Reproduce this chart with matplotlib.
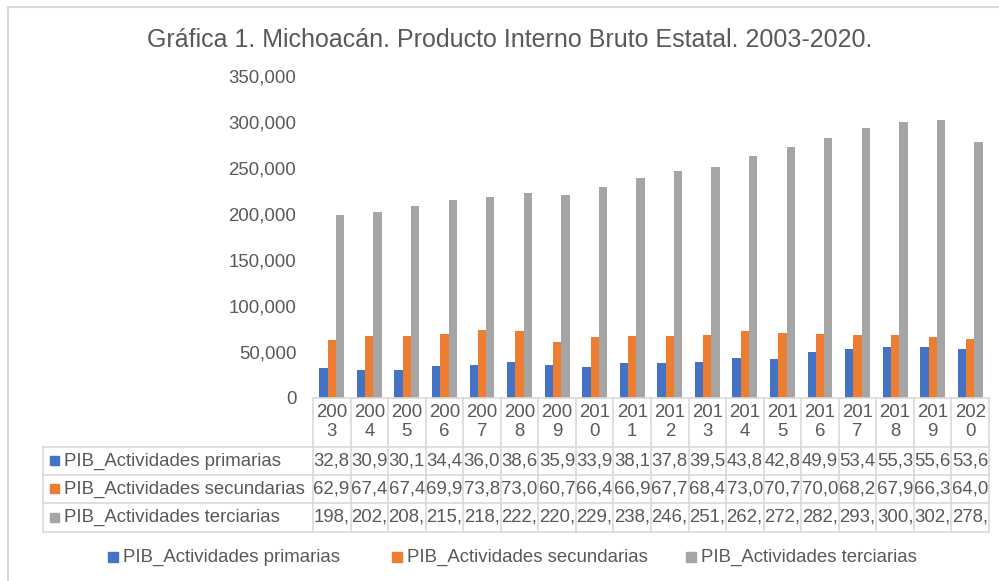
import numpy as np
import matplotlib.pyplot as plt
from matplotlib.patches import Rectangle
from matplotlib.lines import Line2D

plt.rcParams['font.family'] = ['Liberation Sans', 'DejaVu Sans']

years = [str(y) for y in range(2003, 2021)]
series_names = ['PIB_Actividades primarias', 'PIB_Actividades secundarias', 'PIB_Actividades terciarias']
primarias = [32850, 30950, 30150, 34450, 36050, 38650, 35950, 33950, 38150,
             37850, 39550, 43850, 42850, 49950, 53450, 55350, 55650, 53650]
secundarias = [62950, 67450, 67450, 69950, 73850, 73050, 60750, 66450, 66950,
               67750, 68450, 73050, 70750, 70050, 68250, 67950, 66350, 64050]
terciarias = [198500, 202700, 208200, 215400, 218300, 222600, 220500, 229300, 238600,
              246300, 251200, 262700, 272300, 282400, 293100, 300500, 302400, 278600]
colors = ['#4472C4', '#ED7D31', '#A5A5A5']
text_col = '#595959'
grid_col = '#D9D9D9'
fs = 13.4

W, H = 999, 581
fig = plt.figure(figsize=(W / 100, H / 100), dpi=100)


def fx(x):
    return x / W


def fy(y):
    # y measured from the top of the picture
    return 1 - y / H


# plot area in pixels
left, right, top, bottom = 313, 989, 76, 398
ax = fig.add_axes([fx(left), fy(bottom), fx(right - left), (bottom - top) / H])

data = [primarias, secundarias, terciarias]
x = np.arange(len(years))
bw = 0.22
for k in range(3):
    ax.bar(x + (k - 1) * bw, data[k], bw, color=colors[k])

ax.set_xlim(-0.5, len(years) - 0.5)
ax.set_ylim(0, 350000)
ax.set_yticks(range(0, 350001, 50000))
ax.set_yticklabels([f'{v:,}' for v in range(0, 350001, 50000)])
ax.tick_params(axis='y', length=0, pad=12, labelsize=fs, labelcolor=text_col)
ax.set_xticks([])
for s in ['top', 'right', 'left']:
    ax.spines[s].set_visible(False)
ax.spines['bottom'].set_color(grid_col)
ax.spines['bottom'].set_linewidth(1.2)

fig.text(fx(510), fy(40), 'Gráfica 1. Michoacán. Producto Interno Bruto Estatal. 2003-2020.',
         ha='center', va='center', fontsize=18, color=text_col)

# outer chart border (top and left only visible)
fig.add_artist(Line2D([fx(8), 1], [fy(7), fy(7)], color=grid_col, lw=1.5))
fig.add_artist(Line2D([fx(8), fx(8)], [fy(7), 0], color=grid_col, lw=1.5))

# data table
fig.canvas.draw()
col_edges = [ax.transData.transform((i - 0.5, 0))[0] for i in range(len(years) + 1)]
row_lines = [447, 475, 503, 532]
tab_left = 43

for xe in col_edges:
    fig.add_artist(Line2D([fx(xe), fx(xe)], [fy(bottom), fy(row_lines[-1])], color=grid_col, lw=1.2))
fig.add_artist(Line2D([fx(tab_left), fx(tab_left)], [fy(row_lines[0]), fy(row_lines[-1])],
                      color=grid_col, lw=1.2))
for yl in row_lines:
    fig.add_artist(Line2D([fx(tab_left), fx(col_edges[-1])], [fy(yl), fy(yl)], color=grid_col, lw=1.2))

for i, yr in enumerate(years):
    xc = (col_edges[i] + col_edges[i + 1]) / 2
    fig.text(fx(xc), fy(422), yr[:3] + '\n' + yr[3:], ha='center', va='center',
             fontsize=fs, color=text_col, linespacing=1.1)

for k in range(3):
    yc = (row_lines[k] + row_lines[k + 1]) / 2
    fig.add_artist(Rectangle((fx(50), fy(yc + 4)), fx(9), 9 / H, color=colors[k]))
    fig.text(fx(64), fy(yc), series_names[k], ha='left', va='center', fontsize=fs, color=text_col)
    for i, v in enumerate(data[k]):
        fig.text(fx(col_edges[i] + 0.5), fy(yc), f'{v:,}'[:4], ha='left', va='center',
                 fontsize=fs, color=text_col)

# legend
leg_x = [108, 392, 686]
for k in range(3):
    fig.add_artist(Rectangle((fx(leg_x[k]), fy(562)), fx(10), 10 / H, color=colors[k]))
    fig.text(fx(leg_x[k] + 15), fy(557), series_names[k], ha='left', va='center',
             fontsize=fs, color=text_col)

fig.savefig('out.png', dpi=100)
